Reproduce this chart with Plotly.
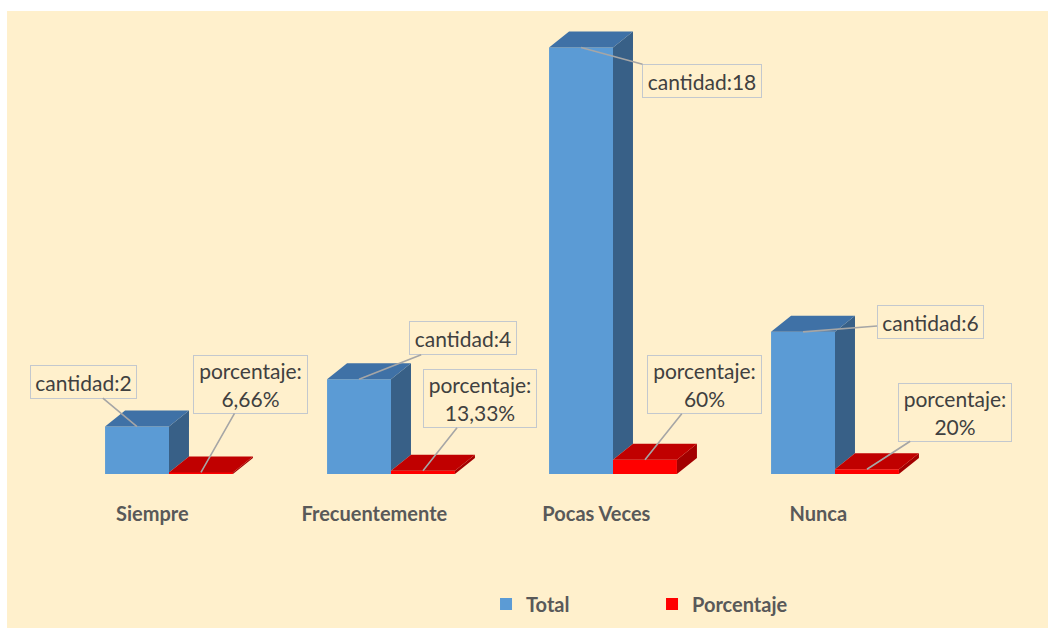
import plotly.graph_objects as go

# --- data ---
categories = ["Siempre", "Frecuentemente", "Pocas Veces", "Nunca"]
total = [2, 4, 18, 6]
porcentaje = [0.0666, 0.1333, 0.60, 0.20]

# --- style ---
BG = "#FFF0CC"
BLUE = ("#5B9BD5", "#3F71A6", "#386087")   # front, top, side
RED = ("#FF0000", "#C00000", "#A30000")
FONT = "Lato"

W = 0.288      # bar width in category units
OFF = 0.144    # offset of each series from category centre
DX, DY = 0.09, 0.675   # fake 3d depth (x units, y units)

xs = list(range(len(categories)))

fig = go.Figure()


def faces(xc, vals, base_vals, colors):
    # top + side face polygons for each bar
    for x, v, b in zip(xc, vals, base_vals):
        x0, x1 = x - W / 2, x + W / 2
        fig.add_trace(go.Scatter(
            x=[x1, x1, x1 + DX, x1 + DX, x1], y=[b, v, v + DY, b + DY, b],
            fill="toself", fillcolor=colors[2], mode="lines", line=dict(width=0),
            showlegend=False, hoverinfo="skip"))
        fig.add_trace(go.Scatter(
            x=[x0, x1, x1 + DX, x0 + DX, x0], y=[v, v, v + DY, v + DY, v],
            fill="toself", fillcolor=colors[1], mode="lines", line=dict(width=0),
            showlegend=False, hoverinfo="skip"))


xb = [x - OFF for x in xs]
xr = [x + OFF for x in xs]

fig.add_trace(go.Bar(x=xb, y=total, width=W, marker=dict(color=BLUE[0], line=dict(width=0)),
                     name="Total", hoverinfo="skip"))
fig.add_trace(go.Bar(x=xr, y=porcentaje, width=W, marker=dict(color=RED[0], line=dict(width=0)),
                     name="Porcentaje", hoverinfo="skip"))
# blue side only visible above the red bar next to it
faces(xb, total, porcentaje, BLUE)
faces(xr, porcentaje, [0] * len(xs), RED)


def pct_text(p):
    s = f"{p * 100:.2f}".rstrip("0").rstrip(".")
    return "porcentaje:<br>" + s.replace(".", ",") + "%"


# label box offsets (px) from anchor, and box sizes
cant_off = [(-54, -45), (104, -41), (121, 33), (127, -10)]
cant_w = [107, 108, 120, 107]
pct_off = [(50, -88), (57, -72), (60, -75), (88, -57)]
pct_w = [115, 114, 115, 114]

box = dict(showarrow=True, arrowhead=0, arrowwidth=1.6, arrowcolor="#A6A6A6",
           font=dict(family=FONT, size=21, color="#404040"),
           bgcolor=BG, bordercolor="#C3C8CE", borderwidth=1, borderpad=1)

for i in xs:
    fig.add_annotation(x=xb[i], y=total[i], text=f"cantidad:{total[i]}",
                       ax=cant_off[i][0], ay=cant_off[i][1],
                       width=cant_w[i] - 4, height=30, **box)
    fig.add_annotation(x=xr[i], y=porcentaje[i], text=pct_text(porcentaje[i]),
                       ax=pct_off[i][0], ay=pct_off[i][1],
                       width=pct_w[i] - 4, height=55, **box)

# white strips on the left and top (as in the source image)
fig.add_shape(type="rect", xref="paper", yref="paper", x0=-0.1, x1=-0.0574, y0=-0.4, y1=1.1,
              fillcolor="white", line=dict(width=0))
fig.add_shape(type="rect", xref="paper", yref="paper", x0=-0.1, x1=1.2, y0=1.0022, y1=1.1,
              fillcolor="white", line=dict(width=0))

fig.update_layout(
    width=1048, height=628,
    margin=dict(l=58, r=102, t=12, b=154, autoexpand=False),
    paper_bgcolor=BG, plot_bgcolor=BG,
    barmode="overlay",
    showlegend=True,
    legend=dict(orientation="h", x=0.482, xanchor="left", y=-0.2814, yanchor="middle",
                font=dict(family=FONT, size=20, color="#595959", weight="bold"),
                entrywidth=121, bgcolor="rgba(0,0,0,0)"),
    xaxis=dict(range=[-0.5, 3.5], tickvals=[x - 0.075 for x in xs], ticktext=categories,
               showgrid=False, zeroline=False, showline=False, ticks="",
               ticklabelstandoff=26, automargin=False,
               tickfont=dict(family=FONT, size=20, color="#595959", weight="bold")),
    yaxis=dict(range=[0, 19.5], visible=False, showgrid=False, zeroline=False,
               automargin=False),
)

fig.write_html("out.html", config={"displayModeBar": False},
               post_script="document.body.style.margin='0';")
